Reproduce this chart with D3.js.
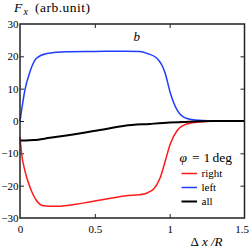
<!DOCTYPE html>
<html><head><meta charset="utf-8">
<script src="https://cdn.jsdelivr.net/npm/d3@7/dist/d3.min.js"></script>
<style>
body{margin:0;background:#fff;}
svg, svg text{font-family:"Liberation Serif","Times New Roman",Times,serif !important;}
</style></head>
<body><svg id="c" width="249" height="249"></svg>
<script>
// ---- data ----
const xTicks = [0, 0.5, 1, 1.5];
const xTickLabels = ["0", "0.5", "1", "1.5"];
const yTicks = [-30, -20, -10, 0, 10, 20, 30];
const yTickLabels = ["\u221230", "\u221220", "\u221210", "0", "10", "20", "30"];

const dxLeft = [0, 0.011, 0.033, 0.067, 0.11, 0.18, 0.31, 0.5, 0.7, 0.8, 0.85, 0.915, 0.97, 1.005, 1.05, 1.115, 1.2, 1.28];
const leftVals = [0, 3.4, 9.6, 15.3, 19.4, 20.9, 21.4, 21.5, 21.6, 21.5, 20.9, 19.4, 14.8, 8.6, 3.4, 0.8, 0.2, 0];

const dxRight = [0, 0.011, 0.033, 0.067, 0.11, 0.156, 0.244, 0.42, 0.7, 0.83, 0.86, 0.893, 0.916, 0.938, 0.971, 1.004, 1.049, 1.115, 1.2, 1.29];
const rightVals = [-5, -10.2, -15.4, -20.5, -24.6, -26.2, -26.4, -25.4, -23.2, -22.6, -22.0, -21.0, -19.5, -17.4, -12.3, -7.1, -3.0, -0.9, -0.3, 0];

const dxAll = [0, 0.04, 0.09, 0.2, 0.31, 0.533, 0.7, 0.867, 1.0, 1.09, 1.2, 1.3, 1.5];
const allVals = [-6.0, -6.0, -5.9, -5.2, -4.5, -2.8, -1.45, -0.9, -0.5, -0.3, -0.05, 0, 0];

const seriesNames = ["right", "left", "all"];
const seriesColors = ["#ff1a1a", "#1f3dff", "#000000"];

// ---- layout ----
const FONT = "'Liberation Serif','Times New Roman',Times,serif";
const svg = d3.select("#c");
const L = 20, R = 244.5, T = 24, B = 218;
const x = d3.scaleLinear().domain([0, 1.5]).range([L, R]);
const y = d3.scaleLinear().domain([-30, 30]).range([B, T]);

// axes
const fs = 11;
const gL = svg.append("g").attr("transform", `translate(${L},0)`)
  .call(d3.axisLeft(y).tickValues(yTicks).tickFormat((d, i) => yTickLabels[i])
    .tickSizeInner(-4).tickSizeOuter(0).tickPadding(1.5));
const gB = svg.append("g").attr("transform", `translate(0,${B})`)
  .call(d3.axisBottom(x).tickValues(xTicks).tickFormat((d, i) => xTickLabels[i])
    .tickSizeInner(-4).tickSizeOuter(0).tickPadding(7));
const gR = svg.append("g").attr("transform", `translate(${R},0)`)
  .call(d3.axisRight(y).tickValues(yTicks.slice(1, -1)).tickFormat("")
    .tickSizeInner(-4).tickSizeOuter(0));
const gT = svg.append("g").attr("transform", `translate(0,${T})`)
  .call(d3.axisTop(x).tickValues(xTicks.slice(1, -1)).tickFormat("")
    .tickSizeInner(-4).tickSizeOuter(0));
[gL, gB, gR, gT].forEach(g => {
  g.attr("font-family", FONT).attr("font-size", fs);
  g.select(".domain").remove();
  g.selectAll("line").attr("stroke", "#222").attr("stroke-width", 1);
  g.selectAll("text").attr("fill", "#000");
});
gL.selectAll(".tick").filter(d => d === 30 || d === -30).select("line").remove();
gB.selectAll(".tick").filter(d => d === 0 || d === 1.5).select("line").remove();
gB.selectAll(".tick").filter(d => d === 1.5).select("text").attr("dx", -3);

// curves
const line = d3.line().x(d => x(d[0])).y(d => y(d[1])).curve(d3.curveMonotoneX);
const seriesData = [
  d3.zip(dxRight, rightVals),
  d3.zip(dxLeft, leftVals),
  d3.zip(dxAll, allVals)
];
const widths = [1.5, 1.5, 2];
seriesData.forEach((s, i) => {
  svg.append("path").attr("d", line(s)).attr("fill", "none")
    .attr("stroke", seriesColors[i]).attr("stroke-width", widths[i]);
});

// frame
svg.append("rect").attr("x", L).attr("y", T).attr("width", R - L).attr("height", B - T)
  .attr("fill", "none").attr("stroke", "#222").attr("stroke-width", 1.5);

const txt = svg.append("g").attr("font-family", FONT);

// title
const t = txt.append("text").attr("y", 12).attr("font-size", 13.5);
t.append("tspan").attr("x", 14).attr("font-style", "italic").text("F");
t.append("tspan").attr("x", 23.5).attr("dy", 2.5).attr("font-size", 10).attr("font-style", "italic").text("x");
t.append("tspan").attr("x", 35).attr("dy", -2.5).attr("letter-spacing", 0.5).text("(arb.unit)");

// panel letter
txt.append("text").attr("x", 133.5).attr("y", 41).attr("font-size", 13).attr("font-style", "italic").text("b");

// x label
const xl = txt.append("text").attr("y", 246).attr("font-size", 13);
xl.append("tspan").attr("x", 190.5).text("\u0394");
xl.append("tspan").attr("x", 202).attr("font-style", "italic").text("x");
xl.append("tspan").attr("x", 211).attr("font-style", "italic").text("/R");

// legend
const lg = txt.append("text").attr("y", 162).attr("font-size", 13.5);
lg.append("tspan").attr("x", 179.5).attr("font-style", "italic").text("\u03c6");
lg.append("tspan").attr("x", 192).text("=");
lg.append("tspan").attr("x", 203.5).text("1");
lg.append("tspan").attr("x", 212.5).text("deg");
seriesNames.forEach((n, i) => {
  const yy = 173.5 + i * 14;
  txt.append("line").attr("x1", 181.5).attr("x2", 197).attr("y1", yy).attr("y2", yy)
    .attr("stroke", seriesColors[i]).attr("stroke-width", widths[i]);
  txt.append("text").attr("x", 201.5).attr("y", yy + 3.5).attr("font-size", 11).text(n);
});
</script></body></html>
